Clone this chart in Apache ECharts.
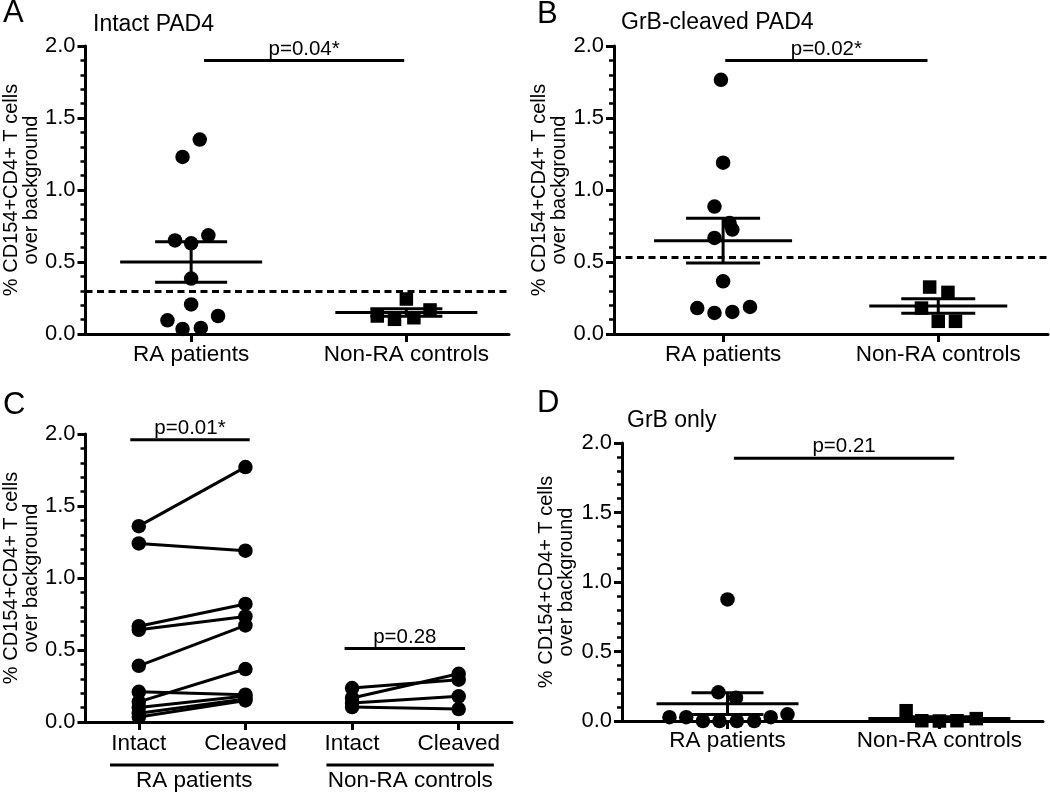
<!DOCTYPE html>
<html>
<head>
<meta charset="utf-8">
<script src="https://cdn.jsdelivr.net/npm/echarts@6/dist/echarts.min.js"></script>
<style>
html,body{margin:0;padding:0;background:#fff;}
#chart{width:1050px;height:795px;}
</style>
</head>
<body>
<div id="chart"></div>
<script>
// ---------------- data ----------------
const groups = ['RA patients', 'Non-RA controls'];
const pairedLabels = ['Intact', 'Cleaved', 'Intact', 'Cleaved'];
const panelLetters = ['A', 'B', 'C', 'D'];
const panelTitles = ['Intact PAD4', 'GrB-cleaved PAD4', '', 'GrB only'];
const yName = '% CD154+CD4+ T cells\nover background';

// Panel A: intact PAD4
const aRA = [1.35, 1.23, 0.685, 0.65, 0.63, 0.385, 0.205, 0.095, 0.125, 0.035, 0.042];
const aRAJitter = [0.04, -0.04, 0.08, -0.075, 0, 0, 0, -0.11, 0.125, -0.04, 0.045];
const aCtrl = [0.243, 0.167, 0.125, 0.102, 0.113];
const aCtrlJitter = [0, 0.11, -0.135, -0.055, 0.035];
const aMean = [0.50, 0.15];
const aSem = [0.14, 0.026];
const aThreshold = 0.30;
const aBracket = [1.06, 1.99, 1.90];
const aP = 'p=0.04*';

// Panel B: GrB-cleaved PAD4
const bRA = [1.765, 1.19, 0.885, 0.77, 0.725, 0.667, 0.366, 0.18, 0.146, 0.153, 0.188];
const bRAJitter = [-0.01, 0, -0.04, 0.03, 0.043, -0.04, 0, -0.12, -0.04, 0.043, 0.125];
const bCtrl = [0.326, 0.289, 0.18, 0.088, 0.088];
const bCtrlJitter = [-0.04, 0.045, -0.078, 0, 0.08];
const bMean = [0.648, 0.194];
const bSem = [0.155, 0.05];
const bThreshold = 0.53;
const bBracket = [1.01, 1.95, 1.90];
const bP = 'p=0.02*';

// Panel C: paired intact vs cleaved
const cRAIntact  = [1.36, 1.24, 0.665, 0.64, 0.39, 0.21, 0.14, 0.10, 0.06, 0.035];
const cRACleaved = [1.77, 1.19, 0.82, 0.733, 0.671, 0.19, 0.368, 0.18, 0.16, 0.15];
const cCtrlIntact  = [0.236, 0.167, 0.132, 0.104];
const cCtrlCleaved = [0.294, 0.335, 0.178, 0.09];
const cBrackets = [[0.92, 2.04, 1.96], [2.93, 4.06, 0.51]];
const cP = ['p=0.01*', 'p=0.28'];
const cGroupSpans = [[0.73, 2.31], [2.76, 4.33]];

// Panel D: GrB only
const dRA = [0.875, 0.206, 0.168, 0.027, 0.027, 0, 0, 0, 0, 0.027, 0.048];
const dRAJitter = [0, -0.043, 0.04, -0.274, -0.195, -0.116, -0.038, 0.044, 0.126, 0.204, 0.283];
const dCtrl = [0.074, 0.002, 0, 0.002, 0.017];
const dCtrlJitter = [-0.157, -0.083, 0, 0.083, 0.174];
const dMean = [0.125, 0.018];
const dSem = [0.079, 0.012];
const dBracket = [1.03, 2.07, 1.89];
const dP = 'p=0.21';

// ---------------- styling / layout ----------------
const FF = "'Liberation Sans', Arial, Helvetica, sans-serif";
const BLACK = '#000';
const LW = 3;

const grids = [
  {left: 84, top: 46, width: 425, height: 288},
  {left: 614, top: 46, width: 434, height: 288},
  {left: 82, top: 434, width: 430, height: 288},
  {left: 622, top: 443, width: 421, height: 278}
];
const xRanges = [[0.509, 2.477], [0.493, 2.51], [0.5, 4.5], [0.502, 2.489]];
const nameGaps = [42, 38, 42, 46];
const xLabelMargins = [9, 9, 10, 8];

function yAxisFor(i) {
  return {
    gridIndex: i, type: 'value', min: 0, max: 2, interval: 0.5,
    axisLine: {show: true, onZero: false, lineStyle: {color: BLACK, width: LW}},
    axisTick: {show: true, length: 8, lineStyle: {color: BLACK, width: LW}},
    minorTick: {show: true, splitNumber: 5, length: 5, lineStyle: {color: BLACK, width: 2.5}},
    splitLine: {show: false},
    axisLabel: {fontSize: 22, color: BLACK, fontFamily: FF, margin: 10,
      formatter: v => v.toFixed(1)},
    name: yName, nameLocation: 'middle', nameRotate: 90, nameGap: nameGaps[i],
    nameTextStyle: {fontSize: 20, lineHeight: 20, color: BLACK, fontFamily: FF, align: 'center'}
  };
}
function xAxisFor(i) {
  const vals = i === 2 ? [1, 2, 3, 4] : [1, 2];
  const labels = i === 2 ? pairedLabels : groups;
  return {
    gridIndex: i, type: 'value', min: xRanges[i][0], max: xRanges[i][1],
    axisLine: {show: true, onZero: false, lineStyle: {color: BLACK, width: LW}},
    axisTick: {show: true, customValues: vals, length: 8, lineStyle: {color: BLACK, width: LW}},
    axisLabel: {customValues: vals, fontSize: 22.5, color: BLACK, fontFamily: FF, margin: xLabelMargins[i],
      formatter: v => labels[Math.round(v) - 1]},
    splitLine: {show: false}
  };
}

function errorSeries(i, means, sems, hwMean, hwCap) {
  return {
    type: 'custom', xAxisIndex: i, yAxisIndex: i, z: 5, silent: true,
    data: means.map((m, k) => [k + 1, m, sems[k]]),
    encode: {x: 0, y: 1},
    renderItem: function (params, api) {
      const x = api.value(0), m = api.value(1), s = api.value(2);
      const c = api.coord([x, m]), u = api.coord([x, m + s]), l = api.coord([x, m - s]);
      const st = {stroke: BLACK, lineWidth: LW};
      return {type: 'group', children: [
        {type: 'line', shape: {x1: c[0] - hwMean, y1: c[1], x2: c[0] + hwMean, y2: c[1]}, style: st},
        {type: 'line', shape: {x1: u[0], y1: u[1], x2: l[0], y2: l[1]}, style: st},
        {type: 'line', shape: {x1: u[0] - hwCap, y1: u[1], x2: u[0] + hwCap, y2: u[1]}, style: st},
        {type: 'line', shape: {x1: l[0] - hwCap, y1: l[1], x2: l[0] + hwCap, y2: l[1]}, style: st}
      ]};
    }
  };
}

function bracketSeries(i, brackets, labels) {
  return {
    type: 'custom', xAxisIndex: i, yAxisIndex: i, z: 5, silent: true, clip: false,
    data: brackets,
    encode: {x: [0, 1], y: 2},
    renderItem: function (params, api) {
      const a = api.coord([api.value(0), api.value(2)]);
      const b = api.coord([api.value(1), api.value(2)]);
      return {type: 'group', children: [
        {type: 'line', shape: {x1: a[0], y1: a[1], x2: b[0], y2: b[1]}, style: {stroke: BLACK, lineWidth: LW}},
        {type: 'text', x: (a[0] + b[0]) / 2, y: a[1] - 1,
          style: {text: labels[params.dataIndex], fill: BLACK, fontSize: 20.5, fontFamily: FF,
            align: 'center', verticalAlign: 'bottom', textAlign: 'center', textVerticalAlign: 'bottom'}}
      ]};
    }
  };
}

function scatterSeries(i, pos, vals, jit, symbol, size) {
  return {
    type: 'scatter', xAxisIndex: i, yAxisIndex: i, symbol: symbol, symbolSize: size,
    itemStyle: {color: BLACK, opacity: 1}, silent: true, clip: false, z: 3,
    data: vals.map((v, k) => [pos + jit[k], v])
  };
}

function thresholdLine(i, value) {
  return {
    type: 'line', xAxisIndex: i, yAxisIndex: i, data: [], silent: true,
    markLine: {silent: true, symbol: ['none', 'none'], label: {show: false},
      lineStyle: {color: BLACK, width: LW, type: [7, 4.5]},
      emphasis: {disabled: true},
      data: [{yAxis: value}]}
  };
}

const series = [];
// A
series.push(scatterSeries(0, 1, aRA, aRAJitter, 'circle', 14.5));
series.push(scatterSeries(0, 2, aCtrl, aCtrlJitter, 'rect', 13.5));
series.push(thresholdLine(0, aThreshold));
series.push(errorSeries(0, aMean, aSem, 71, 36));
series.push(bracketSeries(0, [aBracket], [aP]));
// B
series.push(scatterSeries(1, 1, bRA, bRAJitter, 'circle', 14.5));
series.push(scatterSeries(1, 2, bCtrl, bCtrlJitter, 'rect', 13.5));
series.push(thresholdLine(1, bThreshold));
series.push(errorSeries(1, bMean, bSem, 69, 37));
series.push(bracketSeries(1, [bBracket], [bP]));
// C paired lines
function pairSeries(intact, cleaved, x0) {
  intact.forEach((v, k) => {
    series.push({
      type: 'line', xAxisIndex: 2, yAxisIndex: 2, silent: true,
      symbol: 'circle', symbolSize: 14.5, showAllSymbol: true,
      itemStyle: {color: BLACK}, lineStyle: {color: BLACK, width: LW},
      data: [[x0, v], [x0 + 1, cleaved[k]]]
    });
  });
}
pairSeries(cRAIntact, cRACleaved, 1);
pairSeries(cCtrlIntact, cCtrlCleaved, 3);
series.push(bracketSeries(2, cBrackets, cP));
const cGroupLabels = groups;
series.push({
  type: 'custom', xAxisIndex: 2, yAxisIndex: 2, silent: true, clip: false,
  data: cGroupSpans, encode: {x: [0, 1]},
  renderItem: function (params, api) {
    const a = api.coord([api.value(0), 0]);
    const b = api.coord([api.value(1), 0]);
    const yl = a[1] + 43;
    return {type: 'group', children: [
      {type: 'line', shape: {x1: a[0], y1: yl, x2: b[0], y2: yl}, style: {stroke: BLACK, lineWidth: LW}},
      {type: 'text', x: (a[0] + b[0]) / 2, y: yl + 4,
        style: {text: cGroupLabels[params.dataIndex], fill: BLACK, fontSize: 22.5, fontFamily: FF,
          align: 'center', verticalAlign: 'top', textAlign: 'center', textVerticalAlign: 'top'}}
    ]};
  }
});
// D
series.push(scatterSeries(3, 1, dRA, dRAJitter, 'circle', 14.5));
series.push(scatterSeries(3, 2, dCtrl, dCtrlJitter, 'rect', 13.5));
series.push(errorSeries(3, dMean, dSem, 71, 36));
series.push(bracketSeries(3, [dBracket], [dP]));

const letterPos = [[3, -2], [537, -1], [3, 390], [537, 388]];
const titlePos = [[93, 13], [621, 11], [0, 0], [627, 409]];
const titles = [];
panelLetters.forEach((t, i) => {
  titles.push({text: t, left: letterPos[i][0], top: letterPos[i][1], padding: 0,
    textStyle: {fontSize: 31, fontWeight: 'normal', color: BLACK, fontFamily: FF}});
  if (panelTitles[i]) titles.push({text: panelTitles[i], left: titlePos[i][0], top: titlePos[i][1], padding: 0,
    textStyle: {fontSize: 23, fontWeight: 'normal', color: BLACK, fontFamily: FF}});
});

const chart = echarts.init(document.getElementById('chart'), null, {renderer: 'canvas'});
chart.setOption({
  animation: false,
  backgroundColor: '#fff',
  textStyle: {fontFamily: FF, color: BLACK},
  title: titles,
  grid: grids,
  xAxis: [0, 1, 2, 3].map(xAxisFor),
  yAxis: [0, 1, 2, 3].map(yAxisFor),
  series: series
});
</script>
</body>
</html>
